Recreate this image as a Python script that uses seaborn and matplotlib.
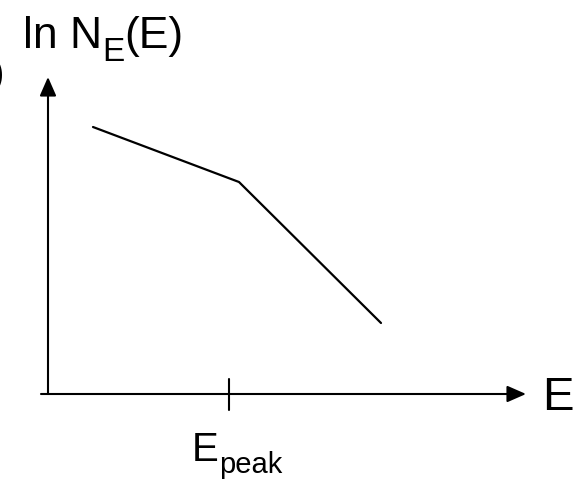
import matplotlib
matplotlib.use("Agg")
import matplotlib.pyplot as plt
import seaborn as sns
import pandas as pd
from matplotlib.patches import ArrowStyle

# Data (arbitrary units): broken power law in log space
energy = [0.9, 3.82, 6.66]
ln_n = [5.34, 4.24, 1.42]
e_peak = 3.62
y_label_parts = ["ln N", "E", "(E)"]
x_label = "E"
peak_label_parts = ["E", "peak"]

sns.set_theme(style="white")
plt.rcParams["font.family"] = ["Liberation Sans", "DejaVu Sans"]

fig = plt.figure(figsize=(5.83, 4.81), dpi=100)
ax = fig.add_axes([0, 0, 1, 1])
ax.set_xlim(-0.96, 10.7)
ax.set_ylim(-1.72, 7.9)
ax.axis("off")

df = pd.DataFrame({"E": energy, "lnN": ln_n})
sns.lineplot(data=df, x="E", y="lnN", color="black", linewidth=1.6, ax=ax,
             legend=False)

style = ArrowStyle("-|>", head_length=0.82, head_width=0.36)
ax.annotate("", xy=(9.56, 0), xytext=(-0.14, 0),
            arrowprops=dict(arrowstyle=style, mutation_scale=14, color="black",
                            lw=1.5, shrinkA=0, shrinkB=0))
ax.annotate("", xy=(0, 6.34), xytext=(0, 0),
            arrowprops=dict(arrowstyle=style, mutation_scale=14, color="black",
                            lw=1.5, shrinkA=0, shrinkB=0))

# tick at E_peak
ax.plot([e_peak, e_peak], [-0.32, 0.3], color="black", lw=1.5)

renderer = fig.canvas.get_renderer()


def seq_text(x, y, pieces):
    """pieces: list of (text, fontsize, y_offset_in_data)."""
    for s, fs, dy in pieces:
        t = ax.text(x, y + dy, s, fontsize=fs, ha="left", va="baseline",
                    color="black")
        bb = t.get_window_extent(renderer)
        x = ax.transData.inverted().transform((bb.x1, bb.y0))[0]


seq_text(-0.5, 6.94, [(y_label_parts[0], 32, 0.0),
                      (y_label_parts[1], 24, -0.26),
                      (y_label_parts[2], 32, 0.0)])
seq_text(2.88, -1.32, [(peak_label_parts[0], 29, 0.0),
                       (peak_label_parts[1], 21, -0.24)])
ax.text(9.88, -0.3, x_label, fontsize=34, ha="left", va="baseline",
        color="black")

# partially visible panel mark at the left edge
ax.text(-0.85, 6.4, "(b)", fontsize=28, ha="right", va="center", color="black")

fig.savefig("out.png", dpi=100)
